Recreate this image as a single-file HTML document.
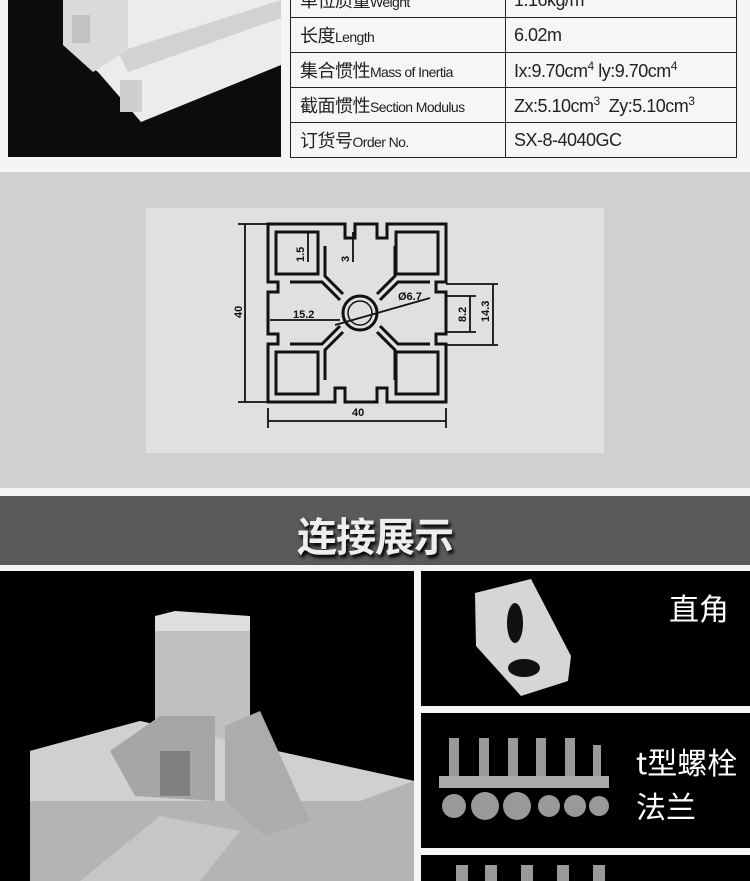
<!DOCTYPE html>
<html><head><meta charset="utf-8"><style>
*{margin:0;padding:0;box-sizing:border-box}
body{width:750px;height:881px;overflow:hidden;background:#f4f5f7;position:relative;font-family:"Liberation Sans","Noto Sans CJK SC",sans-serif}
.abs{position:absolute}
table{position:absolute;left:290px;top:-18px;width:447px;border-collapse:collapse;background:#f5f6f8}
td{border:1.5px solid #222;height:35px;font-size:18px;color:#222;padding:0 0 0 8px;white-space:nowrap;letter-spacing:-0.5px}
td small{font-size:14px;letter-spacing:-0.6px}
td sup{font-size:12px}
.c1{width:215px;padding-left:9px}
</style></head><body>
<div class="abs" style="left:8px;top:0;width:273px;height:157px;background:#0c0c0c;overflow:hidden">
<svg width="273" height="157" style="position:absolute;left:0;top:0">
<polygon points="55,0 273,0 273,65 133,122 110,95 90,72 55,45" fill="#ececec"/>
<polygon points="110,52 273,0 273,18 120,72" fill="#d2d2d2"/>
<polygon points="55,0 120,0 120,50 85,72 55,45" fill="#dadada"/>
<rect x="64" y="15" width="18" height="28" fill="#c2c2c2"/>
<rect x="112" y="80" width="22" height="32" fill="#cfcfcf"/>
</svg></div>
<table>
<tr><td class="c1">单位质量<small>Weight</small></td><td>1.16kg/m</td></tr>
<tr><td class="c1">长度<small>Length</small></td><td>6.02m</td></tr>
<tr><td class="c1">集合惯性<small>Mass of Inertia</small></td><td>Ix:9.70cm<sup>4</sup> ly:9.70cm<sup>4</sup></td></tr>
<tr><td class="c1">截面惯性<small>Section Modulus</small></td><td>Zx:5.10cm<sup>3</sup>&nbsp; Zy:5.10cm<sup>3</sup></td></tr>
<tr><td class="c1">订货号<small>Order No.</small></td><td>SX-8-4040GC</td></tr>
</table>
<div class="abs" style="left:0;top:172px;width:750px;height:316px;background:#d0d0d0"></div>
<div class="abs" style="left:146px;top:208px;width:458px;height:245px;background:#e0e0e0">
<svg width="458" height="245" viewBox="146 208 458 245" style="position:absolute;left:0;top:0" fill="none" stroke="#111" stroke-width="3">
<path d="M268,224 H345 V238 H355 V224 H377 V238 H387 V224 H446 V282 H436 V292 H446 V334 H436 V344 H446 V402 H387 V388 H377 V402 H345 V388 H335 V402 H268 V344 H278 V334 H268 V292 H278 V282 H268 Z"/>
<rect x="276" y="232" width="42" height="42"/>
<rect x="396" y="232" width="42" height="42"/>
<rect x="276" y="352" width="42" height="42"/>
<rect x="396" y="352" width="42" height="42"/>
<path d="M290,282 H322 L340,300 M430,282 H398 L380,300 M290,344 H322 L340,326 M430,344 H398 L380,326"/>
<path d="M325,246 V276 L343,294 M395,246 V276 L377,294 M325,380 V350 L343,332 M395,380 V350 L377,332"/>
<circle cx="360" cy="313" r="17"/>
<circle cx="360" cy="313" r="12" stroke-width="1.5"/>
<g stroke-width="1.8">
<path d="M245,224 V402 M238,224 H268 M238,402 H268"/>
<path d="M268,421 H446 M268,408 V428 M446,408 V428"/>
<path d="M493,284 V345 M446,284 H498 M446,345 H498"/>
<path d="M470,296 V332 M446,296 H476 M446,332 H476"/>
<path d="M270,320 H340 M335,325 L430,298"/>
<path d="M308,232 V262 M353,232 V262"/>
</g>
<g fill="#111" stroke="none" font-family="Liberation Sans,sans-serif" font-weight="bold" font-size="11">
<text x="293" y="318">15.2</text>
<text x="398" y="300">Ø6.7</text>
<text x="352" y="416">40</text>
<text transform="translate(242,318) rotate(-90)">40</text>
<text transform="translate(304,262) rotate(-90)">1.5</text>
<text transform="translate(349,262) rotate(-90)">3</text>
<text transform="translate(466,322) rotate(-90)">8.2</text>
<text transform="translate(489,322) rotate(-90)">14.3</text>
</g></svg></div>
<div class="abs" style="left:0;top:496px;width:750px;height:69px;background:#5a5a5a"></div>
<div class="abs" style="left:0;top:505px;width:750px;text-align:center;font-size:40px;font-weight:bold;color:#eee;font-family:'Noto Sans CJK SC',sans-serif;text-shadow:2px 3px 3px #000;letter-spacing:-1px">连接展示</div>
<div class="abs" style="left:0;top:571px;width:414px;height:310px;background:#000;overflow:hidden">
<svg width="414" height="310" style="position:absolute;left:0;top:0">
<polygon points="155,60 250,60 250,210 155,210" fill="#c0c0c0"/>
<polygon points="155,45 175,40 250,45 250,60 155,60" fill="#dedede"/>
<polygon points="30,180 140,150 414,210 414,310 30,310" fill="#b4b4b4"/>
<polygon points="30,180 140,150 414,210 360,230 30,230" fill="#d0d0d0"/>
<polygon points="80,310 160,245 240,260 200,310" fill="#c6c6c6"/>
<polygon points="110,180 160,145 215,145 215,230 135,225" fill="#a6a6a6"/>
<polygon points="225,155 260,140 310,250 265,265 225,230" fill="#acacac"/>
<rect x="160" y="180" width="30" height="45" fill="#808080"/>
</svg></div>
<div class="abs" style="left:421px;top:571px;width:329px;height:135px;background:#000;overflow:hidden">
<svg width="329" height="135" style="position:absolute;left:0;top:0">
<polygon points="54,22 110,8 150,85 147,110 100,125 55,75" fill="#d6d6d6"/>
<ellipse cx="94" cy="52" rx="8" ry="20" fill="#111"/>
<ellipse cx="103" cy="97" rx="16" ry="9" fill="#111"/>
</svg>
<div class="abs" style="left:248px;top:14px;font-size:30px;color:#fff;font-family:'Noto Sans CJK SC',sans-serif">直角</div></div>
<div class="abs" style="left:421px;top:713px;width:329px;height:135px;background:#000;overflow:hidden">
<svg width="329" height="135" style="position:absolute;left:0;top:0">
<g fill="#999">
<rect x="28" y="25" width="10" height="40"/><rect x="58" y="25" width="10" height="40"/><rect x="87" y="25" width="10" height="40"/><rect x="115" y="25" width="10" height="40"/><rect x="144" y="25" width="10" height="40"/><rect x="172" y="32" width="8" height="33"/>
<rect x="18" y="63" width="170" height="12" fill="#aaa"/>
<circle cx="33" cy="93" r="12"/><circle cx="64" cy="93" r="14"/><circle cx="96" cy="93" r="14"/><circle cx="128" cy="93" r="11"/><circle cx="154" cy="93" r="11"/><circle cx="178" cy="93" r="10"/>
</g></svg>
<div class="abs" style="left:215px;top:26px;font-size:30px;line-height:44px;color:#fff;font-family:'Noto Sans CJK SC',sans-serif">t型螺栓<br>法兰</div></div>
<div class="abs" style="left:421px;top:855px;width:329px;height:26px;background:#000">
<svg width="329" height="26" style="position:absolute;left:0;top:0"><g fill="#999"><rect x="35" y="10" width="12" height="16"/><rect x="64" y="10" width="12" height="16"/><rect x="100" y="10" width="12" height="16"/><rect x="136" y="10" width="12" height="16"/><rect x="172" y="10" width="12" height="16"/></g></svg></div>
</body></html>
